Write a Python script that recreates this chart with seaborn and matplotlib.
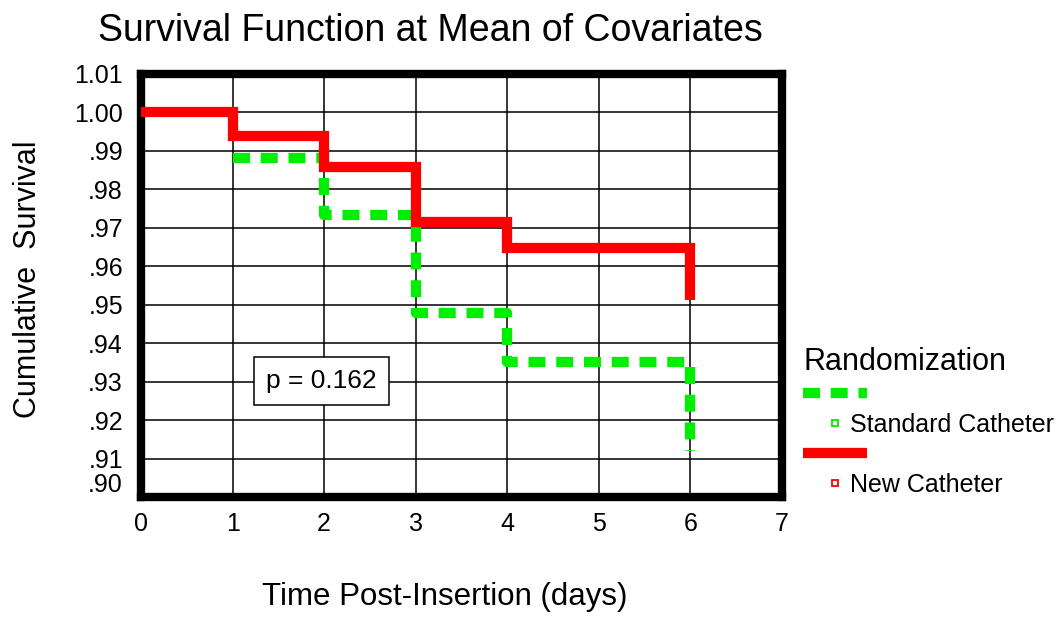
import matplotlib
matplotlib.use("Agg")
import matplotlib.pyplot as plt
import seaborn as sns
import pandas as pd
from matplotlib.lines import Line2D

# values
days_new = [0, 1, 2, 3, 4, 6]
surv_new = [1.000, 0.9938, 0.9858, 0.9715, 0.9646, 0.9512]
days_std = [1, 2, 3, 4, 6]
surv_std = [0.9881, 0.9732, 0.9477, 0.9350, 0.9120]

x_ticks = [0, 1, 2, 3, 4, 5, 6, 7]
y_ticks = [0.90, 0.91, 0.92, 0.93, 0.94, 0.95, 0.96, 0.97, 0.98, 0.99, 1.00, 1.01]
y_tick_labels = ['.90', '.91', '.92', '.93', '.94', '.95', '.96', '.97', '.98', '.99', '1.00', '1.01']
groups = ['Standard Catheter', 'New Catheter']
p_label = 'p = 0.162'

green = '#00ee00'
red = '#ff0000'
dash = (0, (1.65, 1.05))

sns.set_style('white')
plt.rcParams['font.family'] = ['Liberation Sans', 'DejaVu Sans']
plt.rcParams['text.color'] = 'black'
plt.rcParams['axes.labelcolor'] = 'black'

new_df = pd.DataFrame({'day': days_new, 'surv': surv_new})
std_df = pd.DataFrame({'day': days_std, 'surv': surv_std})

fig = plt.figure(figsize=(10.61, 6.24), dpi=100)
ax = fig.add_axes([141 / 1061, 1 - 497 / 624, 641 / 1061, 423.5 / 624])

sns.lineplot(data=std_df, x='day', y='surv', ax=ax, color=green, lw=7.4,
             drawstyle='steps-post', linestyle=dash, zorder=3)
sns.lineplot(data=new_df, x='day', y='surv', ax=ax, color=red, lw=7.4,
             drawstyle='steps-post', solid_joinstyle='miter',
             solid_capstyle='butt', zorder=4)

ax.set_xlim(0, 7)
ax.set_ylim(0.90, 1.01)
ax.set_xticks(x_ticks)
ax.set_yticks(y_ticks)
ax.set_yticklabels(y_tick_labels)
ax.tick_params(axis='both', length=0, labelsize=18, colors='black')
ax.tick_params(axis='y', pad=13)
ax.tick_params(axis='x', pad=11)
ax.get_yticklabels()[0].set_va('bottom')

ax.grid(True, color='black', lw=1.1)
ax.set_axisbelow(True)
for sp in ax.spines.values():
    sp.set_visible(True)
    sp.set_linewidth(6)
    sp.set_color('black')
    sp.set_capstyle('projecting')

ax.set_title('Survival Function at Mean of Covariates', fontsize=27,
             x=0.451, y=1.08, va='center')
ax.set_xlabel('Time Post-Insertion (days)', fontsize=22.5)
ax.xaxis.set_label_coords(0.474, -0.2)
ax.set_ylabel('Cumulative  Survival', fontsize=22)
ax.yaxis.label.set_va('center')
ax.yaxis.set_label_coords(-0.177, 0.515)

ax.text(1.97, 0.9302, p_label, fontsize=19, ha='center', va='center',
        bbox=dict(boxstyle='square,pad=0.45', fc='white', ec='black', lw=1.1),
        zorder=5)

handles = [
    Line2D([], [], color=green, lw=7.4, linestyle=dash),
    Line2D([], [], ls='none', marker='s', ms=4.5, mfc='white', mec=green, mew=1.3),
    Line2D([], [], color=red, lw=7.4, solid_capstyle='butt'),
    Line2D([], [], ls='none', marker='s', ms=4.5, mfc='white', mec=red, mew=1.3),
]
labels = ['', groups[0], '', groups[1]]
leg = fig.legend(handles, labels, loc='upper left', bbox_to_anchor=(803 / 1061, 1 - 347 / 624),
                 frameon=False, fontsize=18, title='Randomization', title_fontsize=22,
                 alignment='left', handlelength=2.55, handletextpad=-0.65,
                 labelspacing=0.24, borderpad=0, borderaxespad=0)

fig.savefig('out.png', dpi=100)
